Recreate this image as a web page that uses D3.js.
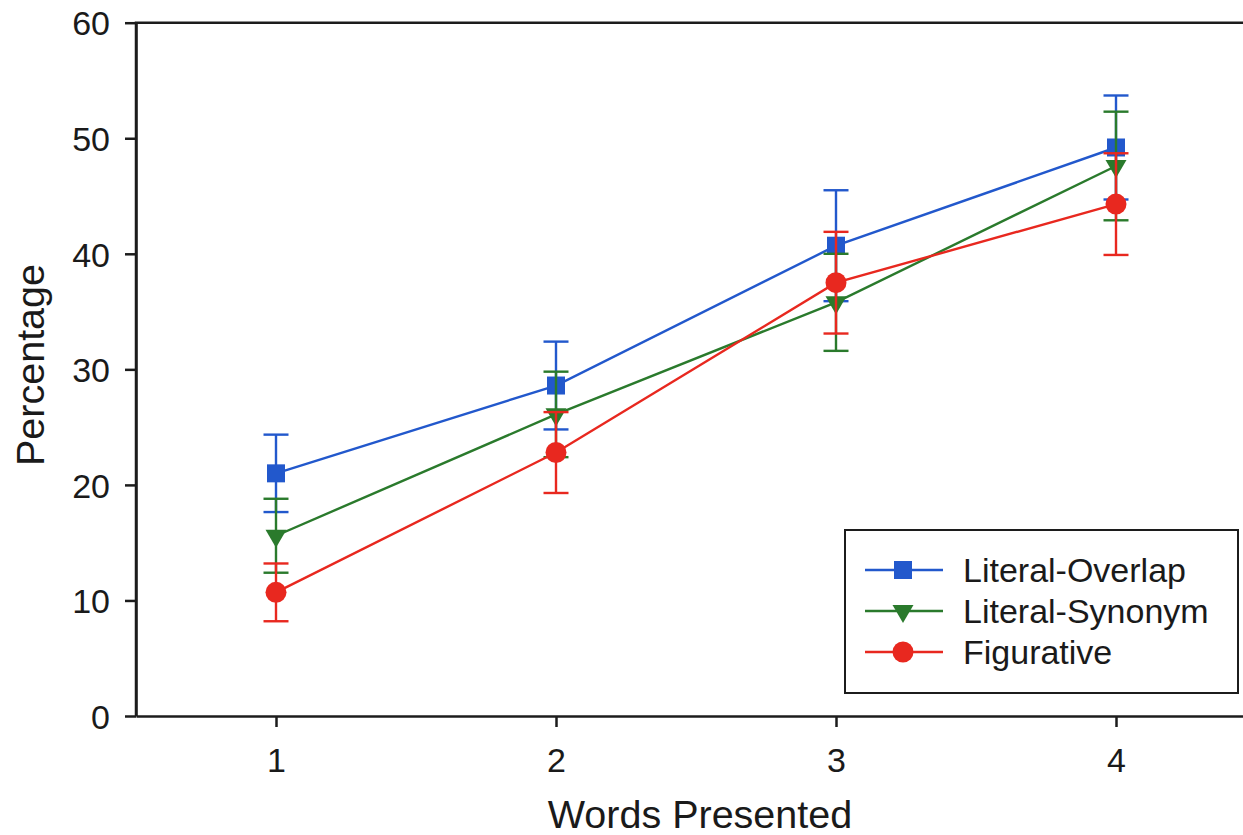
<!DOCTYPE html>
<html>
<head>
<meta charset="utf-8">
<script src="https://cdn.jsdelivr.net/npm/d3@7"></script>
<style>
  body { margin: 0; background: #fff; }
  svg { display: block; font-family: "Liberation Sans", Arial, Helvetica, sans-serif; }
</style>
</head>
<body>
<svg width="1243" height="835"></svg>
<script>
// values
var words = [1, 2, 3, 4];
var tickLabelsX = ["1", "2", "3", "4"];
var tickValuesY = [0, 10, 20, 30, 40, 50, 60];

var overlap = [21.0, 28.6, 40.7, 49.2];
var overlapErr = [3.35, 3.8, 4.8, 4.5];
var synonym = [15.6, 26.1, 35.8, 47.6];
var synonymErr = [3.2, 3.7, 4.2, 4.7];
var figurative = [10.7, 22.8, 37.5, 44.3];
var figurativeErr = [2.5, 3.5, 4.4, 4.4];

var seriesNames = ["Literal-Overlap", "Literal-Synonym", "Figurative"];

var svg = d3.select("svg");

var x = d3.scaleLinear().domain([0.5, 4.5]).range([136, 1256]);
var y = d3.scaleLinear().domain([0, 60]).range([716, 22.7]);

var series = [
    {name: seriesNames[0], vals: overlap, err: overlapErr, color: "#2258cc", shape: "square"},
    {name: seriesNames[1], vals: synonym, err: synonymErr, color: "#2a7a2c", shape: "triangle"},
    {name: seriesNames[2], vals: figurative, err: figurativeErr, color: "#e8281f", shape: "circle"}
];

// frame (top edge runs off the right side of the picture)
svg.append("path")
    .attr("d", "M" + x(0.5) + "," + y(0) + "V" + y(60) + "H" + x(4.5))
    .attr("fill", "none")
    .attr("stroke", "#1c1c1c")
    .attr("stroke-width", 2.5);

var yAxis = svg.append("g")
    .attr("transform", "translate(" + x(0.5) + ",0)")
    .call(d3.axisLeft(y).tickValues(tickValuesY).tickSize(11).tickSizeOuter(0).tickPadding(15));

var xAxis = svg.append("g")
    .attr("transform", "translate(0," + y(0) + ")")
    .call(d3.axisBottom(x).tickValues(words).tickFormat(function(d, i) { return tickLabelsX[i]; })
        .tickSize(11).tickSizeOuter(0).tickPadding(21));

svg.selectAll(".domain").attr("stroke", "#1c1c1c").attr("stroke-width", 2.5);
svg.selectAll(".tick line").attr("stroke", "#1c1c1c").attr("stroke-width", 2.5);
svg.selectAll(".tick text").attr("fill", "#1a1a1a").style("font-size", "34px")
    .style("font-family", "'Liberation Sans', Arial, sans-serif");
yAxis.selectAll(".tick text").attr("dy", "0.36em");

svg.append("text")
    .attr("x", 700)
    .attr("y", 828)
    .attr("text-anchor", "middle")
    .attr("fill", "#1a1a1a")
    .style("font-size", "39.5px")
    .text("Words Presented");

svg.append("text")
    .attr("transform", "translate(44,365) rotate(-90)")
    .attr("text-anchor", "middle")
    .attr("fill", "#1a1a1a")
    .style("font-size", "39.5px")
    .text("Percentage");

function drawMarker(sel, shape, color) {
    if (shape === "circle") {
        sel.append("circle").attr("r", 10.5).attr("fill", color);
    } else if (shape === "square") {
        sel.append("path").attr("d", d3.symbol(d3.symbolSquare, 324)()).attr("fill", color);
    } else {
        sel.append("path").attr("d", d3.symbol(d3.symbolTriangle, 190)())
            .attr("transform", "rotate(180)")
            .attr("fill", color);
    }
}

var line = d3.line()
    .x(function(d) { return x(d[0]); })
    .y(function(d) { return y(d[1]); });

series.forEach(function(s) {
    var g = svg.append("g");
    var pts = words.map(function(w, i) { return [w, s.vals[i], s.err[i]]; });

    // error bars
    var eb = g.selectAll(".eb").data(pts).enter().append("g")
        .attr("stroke", s.color).attr("stroke-width", 2.4);
    eb.append("line")
        .attr("x1", function(d) { return x(d[0]); })
        .attr("x2", function(d) { return x(d[0]); })
        .attr("y1", function(d) { return y(d[1] - d[2]); })
        .attr("y2", function(d) { return y(d[1] + d[2]); });
    eb.append("line")
        .attr("x1", function(d) { return x(d[0]) - 12.5; })
        .attr("x2", function(d) { return x(d[0]) + 12.5; })
        .attr("y1", function(d) { return y(d[1] + d[2]); })
        .attr("y2", function(d) { return y(d[1] + d[2]); });
    eb.append("line")
        .attr("x1", function(d) { return x(d[0]) - 12.5; })
        .attr("x2", function(d) { return x(d[0]) + 12.5; })
        .attr("y1", function(d) { return y(d[1] - d[2]); })
        .attr("y2", function(d) { return y(d[1] - d[2]); });

    g.append("path")
        .datum(pts)
        .attr("d", line)
        .attr("fill", "none")
        .attr("stroke", s.color)
        .attr("stroke-width", 2.4);

    g.selectAll(".mk").data(pts).enter().append("g")
        .attr("transform", function(d) { return "translate(" + x(d[0]) + "," + y(d[1]) + ")"; })
        .each(function() { drawMarker(d3.select(this), s.shape, s.color); });
});

// legend
var legend = svg.append("g");
legend.append("rect")
    .attr("x", 845).attr("y", 530)
    .attr("width", 393).attr("height", 163)
    .attr("fill", "#fff")
    .attr("stroke", "#1c1c1c")
    .attr("stroke-width", 2);

var rowY = d3.scalePoint().domain(seriesNames).range([570, 652]);

series.forEach(function(s) {
    var row = legend.append("g").attr("transform", "translate(0," + rowY(s.name) + ")");
    row.append("line")
        .attr("x1", 865).attr("x2", 943)
        .attr("stroke", s.color).attr("stroke-width", 2.4);
    var m = row.append("g").attr("transform", "translate(903,0)");
    drawMarker(m, s.shape, s.color);
    row.append("text")
        .attr("x", 963)
        .attr("dy", "0.36em")
        .attr("fill", "#1a1a1a")
        .style("font-size", "34px")
        .text(s.name);
});
</script>
</body>
</html>
